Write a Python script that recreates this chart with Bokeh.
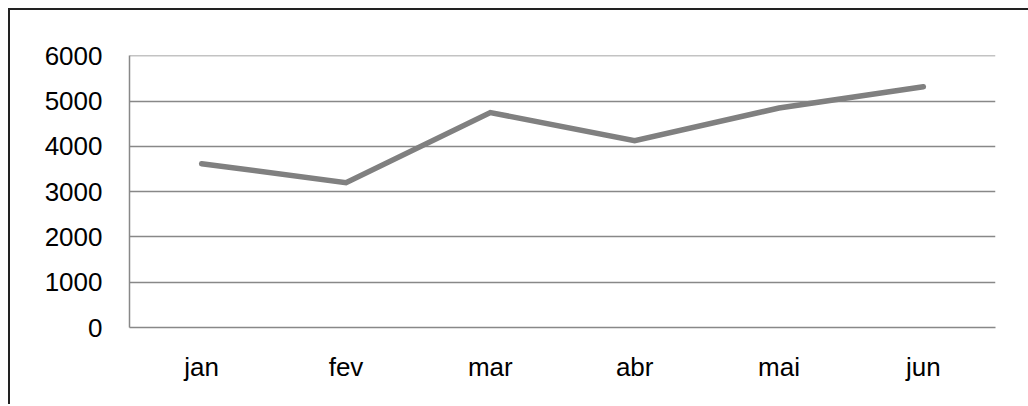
from bokeh.plotting import figure
from bokeh.models import ColumnDataSource, FixedTicker
from bokeh.embed import file_html
from bokeh.resources import INLINE

months = ["jan", "fev", "mar", "abr", "mai", "jun"]
values = [3620, 3200, 4750, 4130, 4850, 5320]
y_ticks = [0, 1000, 2000, 3000, 4000, 5000, 6000]

src = ColumnDataSource(dict(month=months, value=values))

p = figure(x_range=months, y_range=(0, 6010), width=1018, height=394,
           output_backend="svg", toolbar_location=None,
           min_border_left=119, min_border_top=45, min_border_right=33, min_border_bottom=77)
p.frame_width = 866
p.frame_height = 272
p.styles = {"border-top": "2px solid #222", "border-left": "2px solid #222",
            "margin-left": "8px", "margin-top": "8px"}

p.line(x="month", y="value", source=src, line_color="#808080", line_width=5.5, line_cap="round", line_join="miter")

p.outline_line_color = None
p.background_fill_color = "white"
p.border_fill_color = "white"

p.xgrid.grid_line_color = None
p.ygrid.grid_line_color = "#888888"
p.ygrid.grid_line_width = 1.5
p.yaxis.ticker = FixedTicker(ticks=y_ticks)

for ax in (p.xaxis[0], p.yaxis[0]):
    ax.axis_line_color = "#888888"
    ax.axis_line_width = 1.5
    ax.major_tick_line_color = None
    ax.minor_tick_line_color = None
    ax.major_label_text_font = "Liberation Sans"
    ax.major_label_text_font_size = "26px"
    ax.major_label_text_color = "black"

p.yaxis.major_label_standoff = 21
p.xaxis.major_label_standoff = 18

open("out.html", "w").write(file_html(p, INLINE))
